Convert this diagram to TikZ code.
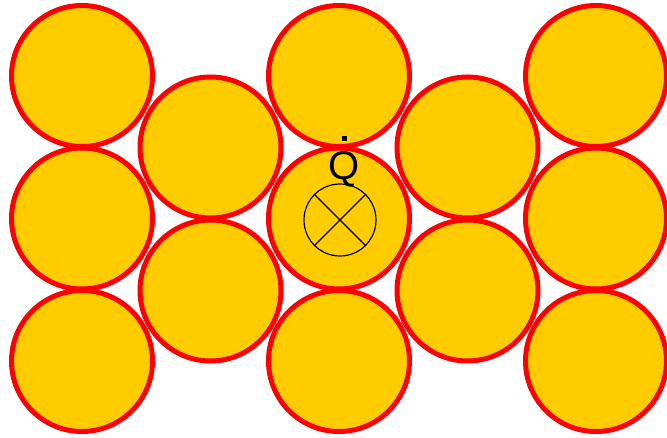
\documentclass[tikz,border=0pt]{standalone}
\usepackage{fontspec}
\setmainfont{Liberation Sans}
\usetikzlibrary{positioning}
\definecolor{grainfill}{HTML}{FFCC00}
\definecolor{grainedge}{HTML}{FF0000}
\newcommand\heatrate{\leavevmode\setbox0\hbox{Q}\rlap{\hbox to\wd0{\hss\rule[38.5pt]{4.6pt}{4.6pt}\hss}}Q}

\begin{document}
\begin{tikzpicture}[x=1pt,y=-1pt,
  grain/.style={circle,draw=grainedge,fill=grainfill,line width=5pt,minimum size=141pt,inner sep=0pt},
  source/.style={circle,draw=black,line width=1.2pt,minimum size=72pt,inner sep=0pt}]
  \useasboundingbox (0,0) rectangle (667,438);
  % odd columns: three grains each
  \foreach \c/\x in {1/82,3/339,5/596} {
    \foreach \r/\y in {1/76,2/218.5,3/361} {
      \node[grain] (g\c\r) at (\x,\y) {};
    }
  }
  % even columns: two grains each
  \foreach \c/\x in {2/210.5,4/467.5} {
    \foreach \r/\y in {1/147.5,2/290.5} {
      \node[grain] (g\c\r) at (\x,\y) {};
    }
  }
  \node[source] (heat) at (340,220) {};
  \draw[line width=1.2pt] (heat.north west) -- (heat.south east);
  \draw[line width=1.2pt] (heat.south west) -- (heat.north east);
  \node[anchor=base,inner sep=0pt,font=\fontsize{40}{44}\selectfont] (qdot) at (344.5,179.5) {\heatrate};
\end{tikzpicture}
\end{document}
